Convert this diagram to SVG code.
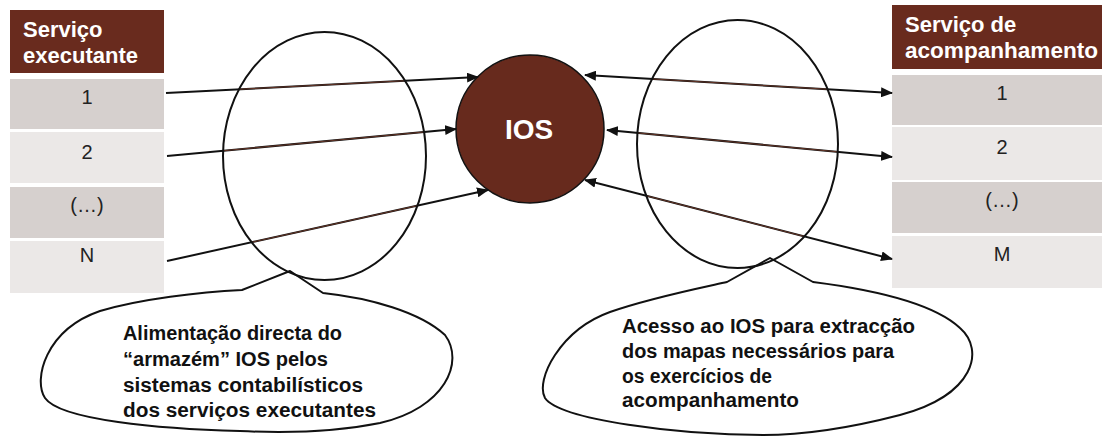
<svg xmlns="http://www.w3.org/2000/svg" width="1102" height="437" viewBox="0 0 1102 437">
<style>
 .hdr{fill:#692b1e}
 .dark{fill:#d6d0ce}
 .light{fill:#ebe8e7}
 .ht{font-family:"Liberation Sans",Arial,sans-serif;font-weight:bold;font-size:22px;fill:#ffffff}
 .num{font-family:"Liberation Sans",Arial,sans-serif;font-size:20px;fill:#222222;text-anchor:middle}
 .ct{font-family:"Liberation Sans",Arial,sans-serif;font-weight:bold;font-size:19.5px;fill:#111111}
 .conn{stroke:#111111;stroke-width:2;fill:none}
 .tint{stroke:#6e3a2a;stroke-width:0.9;fill:none}
 .ring{fill:none;stroke:#111111;stroke-width:2}
 .callout{fill:#ffffff;stroke:#111111;stroke-width:2;stroke-linejoin:round}
</style>
<defs>
 <marker id="ah" viewBox="0 0 12 10" refX="11" refY="5" markerWidth="12" markerHeight="10" markerUnits="userSpaceOnUse" orient="auto-start-reverse">
  <path d="M0,0 L12,5 L0,10 Z" fill="#111111"/>
 </marker>
 <clipPath id="ellClip">
  <ellipse cx="324.5" cy="156" rx="101.5" ry="124"/>
  <ellipse cx="737.5" cy="144" rx="100.5" ry="124"/>
 </clipPath>
</defs>
<rect width="1102" height="437" fill="#ffffff"/>

<g id="left-table">
 <rect class="hdr" x="10" y="10" width="154" height="63"/>
 <text class="ht" x="23" y="37">Serviço</text>
 <text class="ht" x="23" y="63">executante</text>
 <rect class="dark" x="10" y="79" width="154" height="50"/>
 <rect class="light" x="10" y="132" width="154" height="51"/>
 <rect class="dark" x="10" y="187" width="154" height="51"/>
 <rect class="light" x="10" y="241" width="154" height="52"/>
 <text class="num" x="87" y="104">1</text>
 <text class="num" x="87" y="159">2</text>
 <text class="num" x="87" y="212">(…)</text>
 <text class="num" x="87" y="262">N</text>
</g>

<g id="right-table">
 <rect class="hdr" x="892" y="5" width="220" height="64"/>
 <text class="ht" x="905" y="32">Serviço de</text>
 <text class="ht" x="905" y="58" textLength="193" lengthAdjust="spacingAndGlyphs">acompanhamento</text>
 <rect class="dark" x="892" y="75" width="220" height="50"/>
 <rect class="light" x="892" y="127" width="220" height="53"/>
 <rect class="dark" x="892" y="182" width="220" height="51"/>
 <rect class="light" x="892" y="236" width="220" height="52"/>
 <text class="num" x="1002" y="100">1</text>
 <text class="num" x="1002" y="154">2</text>
 <text class="num" x="1002" y="207">(…)</text>
 <text class="num" x="1002" y="261">M</text>
</g>

<g id="ios">
 <circle cx="530" cy="129" r="74" fill="#672a1d" stroke="#111111" stroke-width="1.5"/>
 <text x="529" y="139" text-anchor="middle" font-family="Liberation Sans, Arial, sans-serif" font-weight="bold" font-size="28" fill="#ffffff">IOS</text>
</g>

<g id="connectors">
 <line class="conn" x1="166" y1="93" x2="478" y2="77" marker-end="url(#ah)"/>
 <line class="conn" x1="167" y1="156" x2="456" y2="129" marker-end="url(#ah)"/>
 <line class="conn" x1="167" y1="261" x2="488" y2="190" marker-end="url(#ah)"/>
 <line class="conn" x1="585" y1="75" x2="892" y2="93" marker-start="url(#ah)" marker-end="url(#ah)"/>
 <line class="conn" x1="607" y1="130" x2="892" y2="157" marker-start="url(#ah)" marker-end="url(#ah)"/>
 <line class="conn" x1="585" y1="180" x2="892" y2="259" marker-start="url(#ah)" marker-end="url(#ah)"/>
 <g clip-path="url(#ellClip)">
  <line class="tint" x1="166" y1="93" x2="478" y2="77"/>
  <line class="tint" x1="167" y1="156" x2="456" y2="129"/>
  <line class="tint" x1="167" y1="261" x2="488" y2="190"/>
  <line class="tint" x1="585" y1="75" x2="892" y2="93"/>
  <line class="tint" x1="607" y1="130" x2="892" y2="157"/>
  <line class="tint" x1="585" y1="180" x2="892" y2="259"/>
 </g>
</g>

<g id="callout-left">
 <path class="callout" d="M290,271 L323,293 C370,298 420,312 445,335 C465,362 445,408 380,423 C330,433 280,433 240,431 C160,429 60,420 45,398 C33,380 45,330 100,311 C140,299 200,292 242,290 Z"/>
 <text class="ct" x="123" y="340" textLength="219" lengthAdjust="spacingAndGlyphs">Alimentação directa do</text>
 <text class="ct" x="123" y="366" textLength="205" lengthAdjust="spacingAndGlyphs">“armazém” IOS pelos</text>
 <text class="ct" x="123" y="392" textLength="240" lengthAdjust="spacingAndGlyphs">sistemas contabilísticos</text>
 <text class="ct" x="123" y="417" textLength="253" lengthAdjust="spacingAndGlyphs">dos serviços executantes</text>
</g>

<g id="callout-right">
 <path class="callout" d="M770,258 L813,282 C860,288 930,300 960,328 C985,350 975,395 900,415 C850,428 800,435 763,435 C680,435 560,420 545,398 C535,380 560,330 610,312 C650,298 700,288 727,282 Z"/>
 <text class="ct" x="622" y="333" textLength="293" lengthAdjust="spacingAndGlyphs">Acesso ao IOS  para extracção</text>
 <text class="ct" x="622" y="358" textLength="272" lengthAdjust="spacingAndGlyphs">dos mapas necessários para</text>
 <text class="ct" x="622" y="383" textLength="150" lengthAdjust="spacingAndGlyphs">os exercícios de</text>
 <text class="ct" x="622" y="407" textLength="177" lengthAdjust="spacingAndGlyphs">acompanhamento</text>
</g>

<g id="ellipse-left">
 <ellipse class="ring" cx="324.5" cy="156" rx="101.5" ry="124"/>
</g>
<g id="ellipse-right">
 <ellipse class="ring" cx="737.5" cy="144" rx="100.5" ry="124"/>
</g>
</svg>
